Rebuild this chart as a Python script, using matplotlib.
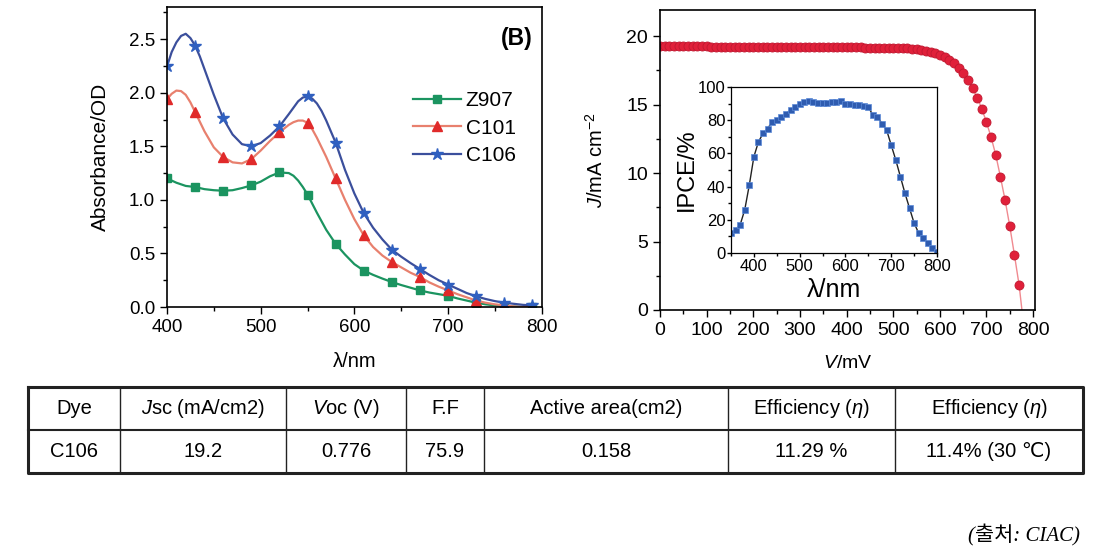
import matplotlib
matplotlib.use('Agg')
import matplotlib.pyplot as plt
from matplotlib.ticker import MultipleLocator

plt.rcParams['font.family'] = ['Liberation Sans', 'DejaVu Sans']
plt.rcParams['mathtext.fontset'] = 'custom'
plt.rcParams['mathtext.rm'] = 'Liberation Sans'
plt.rcParams['mathtext.it'] = 'Liberation Sans:italic'
plt.rcParams['mathtext.bf'] = 'Liberation Sans:bold'

# absorbance spectra (line, markers every 30 nm)
wl = [400, 405, 410, 415, 420, 425, 430, 435, 440, 450, 460, 470, 480, 490, 500, 510, 520, 530,
      535, 540, 545, 550, 555, 560, 565, 570, 580, 590, 600, 610, 620, 630, 640, 650, 660, 670,
      680, 690, 700, 710, 720, 730, 740, 750, 760, 770, 780, 790]
z907 = [1.20, 1.18, 1.16, 1.145, 1.13, 1.125, 1.12, 1.11, 1.10, 1.09, 1.085, 1.09, 1.11, 1.135,
        1.17, 1.22, 1.256, 1.25, 1.225, 1.18, 1.12, 1.05, 0.965, 0.88, 0.80, 0.72, 0.59, 0.49,
        0.40, 0.34, 0.30, 0.265, 0.233, 0.205, 0.18, 0.155, 0.135, 0.12, 0.105, 0.08, 0.06, 0.04,
        0.025, 0.015, 0.01, 0.005, 0.0, 0.0]
c101 = [1.94, 1.99, 2.02, 2.015, 1.98, 1.91, 1.82, 1.73, 1.64, 1.49, 1.40, 1.35, 1.34, 1.38,
        1.46, 1.55, 1.63, 1.70, 1.725, 1.74, 1.74, 1.72, 1.66, 1.58, 1.49, 1.40, 1.20, 1.00,
        0.82, 0.67, 0.56, 0.48, 0.42, 0.37, 0.32, 0.28, 0.23, 0.19, 0.155, 0.12, 0.09, 0.06,
        0.04, 0.025, 0.015, 0.005, 0.0, 0.0]
c106 = [2.245, 2.38, 2.47, 2.53, 2.55, 2.51, 2.44, 2.34, 2.22, 1.98, 1.76, 1.61, 1.52, 1.50,
        1.53, 1.60, 1.685, 1.80, 1.86, 1.92, 1.955, 1.965, 1.945, 1.90, 1.83, 1.74, 1.535, 1.28,
        1.06, 0.877, 0.74, 0.63, 0.535, 0.47, 0.41, 0.355, 0.30, 0.25, 0.21, 0.17, 0.13, 0.10,
        0.075, 0.055, 0.04, 0.03, 0.02, 0.015]
marker_wl = [400, 430, 460, 490, 520, 550, 580, 610, 640, 670, 700, 730, 760, 790]

# J-V curve
volt = [0, 10, 20, 30, 40, 50, 60, 70, 80, 90, 100, 110, 120, 130, 140, 150, 160, 170, 180, 190,
        200, 210, 220, 230, 240, 250, 260, 270, 280, 290, 300, 310, 320, 330, 340, 350, 360, 370,
        380, 390, 400, 410, 420, 430, 440, 450, 460, 470, 480, 490, 500, 510, 520, 530, 540, 550,
        560, 570, 580, 590, 600, 610, 620, 630, 640, 650, 660, 670, 680, 690, 700, 710, 720, 730,
        740, 750, 760, 770, 776]
jsc = [19.25, 19.25, 19.25, 19.25, 19.25, 19.25, 19.24, 19.24, 19.24, 19.24, 19.24, 19.23, 19.23,
       19.23, 19.23, 19.23, 19.22, 19.22, 19.22, 19.22, 19.22, 19.21, 19.21, 19.21, 19.21, 19.21,
       19.2, 19.2, 19.2, 19.2, 19.2, 19.2, 19.19, 19.19, 19.19, 19.19, 19.18, 19.18, 19.18, 19.18,
       19.17, 19.17, 19.17, 19.17, 19.16, 19.16, 19.16, 19.16, 19.15, 19.15, 19.15, 19.13, 19.12,
       19.1, 19.07, 19.03, 18.98, 18.92, 18.85, 18.75, 18.62, 18.45, 18.25, 18.0, 17.7, 17.3, 16.8,
       16.2, 15.5, 14.7, 13.7, 12.6, 11.3, 9.7, 8.0, 6.1, 4.0, 1.8, 0.0]

# IPCE inset
ipce_wl = [350, 360, 370, 380, 390, 400, 410, 420, 430, 440, 450, 460, 470, 480, 490, 500, 510,
           520, 530, 540, 550, 560, 570, 580, 590, 600, 610, 620, 630, 640, 650, 660, 670, 680,
           690, 700, 710, 720, 730, 740, 750, 760, 770, 780, 790, 800]
ipce = [12, 14, 17, 26, 41, 58, 67, 72, 75, 79, 80, 82, 84, 86, 88, 90, 91, 91.5, 91, 90.5, 90.5,
        90.5, 91, 91, 91.5, 90, 90, 89, 89, 88.5, 88, 83, 82, 78, 74, 65, 56, 46, 36, 27, 18, 12,
        9, 6, 3, 0.5]

# table
headers = ['Dye', '$J$sc (mA/cm2)', '$V$oc (V)', 'F.F', 'Active area(cm2)',
           r'Efficiency ($\eta$)', r'Efficiency ($\eta$)']
row = ['C106', '19.2', '0.776', '75.9', '0.158', '11.29 %', '11.4% (30 ℃)']

W, H = 1100, 554
fig = plt.figure(figsize=(11, 5.54), dpi=100)


def box(x0, x1, ytop, ybot):
    return [x0 / W, 1 - ybot / H, (x1 - x0) / W, (ybot - ytop) / H]


def style(ax, size):
    for s in ax.spines.values():
        s.set_linewidth(1.2)
    ax.tick_params(which='major', direction='out', length=5, width=1, labelsize=size)
    ax.tick_params(which='minor', direction='out', length=3, width=1)


# ---- left: absorbance
mk = [wl.index(w) for w in marker_wl]
ax1 = fig.add_axes(box(167, 541.7, 7, 307))
ax1.plot(wl, z907, color='#1b9460', lw=1.6, marker='s', ms=6, markevery=mk, label='Z907')
ax1.plot(wl, c101, color='#e8806e', lw=1.6, marker='^', ms=6.5, markevery=mk,
         mfc='#e02a2a', mec='#e02a2a', label='C101')
ax1.plot(wl, c106, color='#3b4f9c', lw=1.6, marker='*', ms=9, markevery=mk,
         mfc='#3060c0', mec='#3060c0', label='C106')
ax1.set_xlim(400, 800)
ax1.set_ylim(0, 2.8)
ax1.xaxis.set_major_locator(MultipleLocator(100))
ax1.xaxis.set_minor_locator(MultipleLocator(50))
ax1.yaxis.set_major_locator(MultipleLocator(0.5))
ax1.yaxis.set_minor_locator(MultipleLocator(0.25))
style(ax1, 13.5)
ax1.set_xlabel('λ/nm', fontsize=14.5, labelpad=12)
ax1.set_ylabel('Absorbance/OD', fontsize=15, labelpad=14)
ax1.text(0.975, 0.895, '(B)', transform=ax1.transAxes, ha='right', va='center',
         fontsize=16.5, fontweight='bold')
ax1.legend(loc='upper left', bbox_to_anchor=(0.63, 0.755), frameon=False, fontsize=15,
           handlelength=2.3, handletextpad=0.2, labelspacing=0.42, borderpad=0)

# ---- right: J-V
ax2 = fig.add_axes(box(660, 1035, 10, 310))
ax2.plot(volt, jsc, color='#f08a90', lw=1.0, marker='o', ms=6.5, mfc='#e0203a',
         mec='#c01830', mew=0.6, markevery=list(range(len(volt) - 1)))
ax2.set_xlim(0, 804)
ax2.set_ylim(0, 21.9)
ax2.xaxis.set_major_locator(MultipleLocator(100))
ax2.xaxis.set_minor_locator(MultipleLocator(50))
ax2.yaxis.set_major_locator(MultipleLocator(5))
ax2.yaxis.set_minor_locator(MultipleLocator(2.5))
style(ax2, 14)
ax2.set_xlabel('$V$/mV', fontsize=14, labelpad=12)
ax2.set_ylabel('$J$/mA cm$^{-2}$', fontsize=14.5, labelpad=14)

# ---- inset: IPCE
ax3 = fig.add_axes(box(731, 937, 87, 253))
ax3.plot(ipce_wl, ipce, color='#222222', lw=1.0, marker='s', ms=3.8, mfc='#2f5cb0',
         mec='#5c8ad8', mew=0.5)
ax3.set_xlim(350, 800)
ax3.set_ylim(0, 100)
ax3.xaxis.set_major_locator(MultipleLocator(100))
ax3.xaxis.set_minor_locator(MultipleLocator(50))
ax3.yaxis.set_major_locator(MultipleLocator(20))
ax3.yaxis.set_minor_locator(MultipleLocator(10))
style(ax3, 12)
ax3.tick_params(which='major', length=3, pad=1)
ax3.tick_params(which='minor', length=2)
for s in ax3.spines.values():
    s.set_linewidth(0.9)
ax3.set_xlabel('λ/nm', fontsize=18, labelpad=3)
ax3.set_ylabel('IPCE/%', fontsize=17, labelpad=0)

# ---- table
axt = fig.add_axes([0, 0, 1, 1])
axt.set_xlim(0, W)
axt.set_ylim(H, 0)
axt.axis('off')
cols = [28, 120, 286, 406, 484, 728, 895, 1083]
ytop, ymid, ybot = 387, 430, 473
axt.plot([cols[0], cols[-1], cols[-1], cols[0], cols[0]], [ytop, ytop, ybot, ybot, ytop],
         color='#222222', lw=2.2)
axt.plot([cols[0], cols[-1]], [ymid, ymid], color='#222222', lw=1.5)
for c in cols[1:-1]:
    axt.plot([c, c], [ytop, ybot], color='#222222', lw=1.0)
for i in range(len(headers)):
    xc = (cols[i] + cols[i + 1]) / 2
    axt.text(xc, (ytop + ymid) / 2, headers[i], ha='center', va='center', fontsize=14.5)
    axt.text(xc, (ymid + ybot) / 2, row[i], ha='center', va='center', fontsize=14.5)

fig.text(1080 / W, 1 - 535 / H, '(출처: CIAC)', ha='right', va='center', fontsize=15,
         family=['Liberation Serif', 'Noto Sans CJK KR'], style='italic')

fig.savefig('out.png', dpi=100)
